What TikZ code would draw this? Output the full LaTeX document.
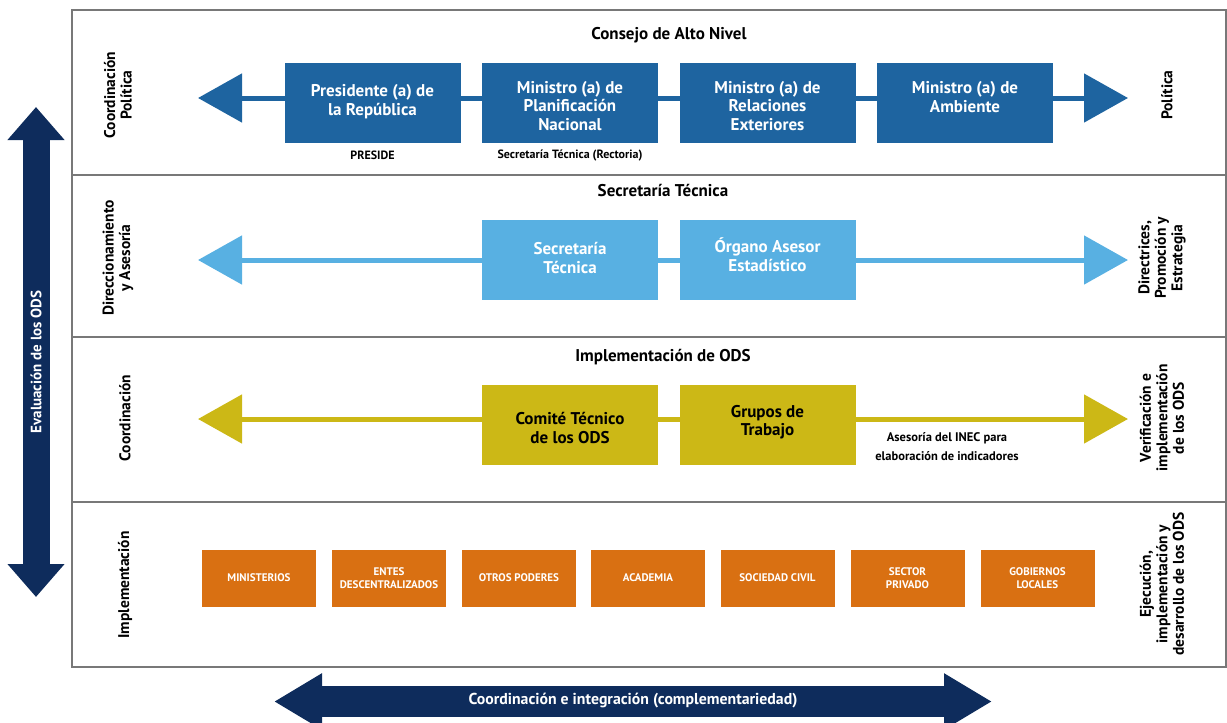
\documentclass[tikz,border=0pt]{standalone}
\usepackage{fontspec}
\setmainfont{PT Sans}
\usetikzlibrary{arrows.meta}
\definecolor{dblue}{RGB}{30,100,160}
\definecolor{lblue}{RGB}{88,176,226}
\definecolor{olive}{RGB}{204,184,22}
\definecolor{orng}{RGB}{217,112,18}
\definecolor{navy}{RGB}{14,44,92}
\definecolor{frame}{RGB}{120,120,120}
\tikzset{
  bbox/.style={minimum width=176pt,minimum height=80pt,inner sep=0pt},
  btxt/.style={inner sep=0pt,align=center,font=\fontsize{17}{18.5}\selectfont\bfseries,text=white},
  obx/.style={fill=orng,minimum width=114pt,minimum height=57pt,inner sep=1pt,align=center,font=\fontsize{11}{13}\selectfont\bfseries,text=white},
  ttl/.style={font=\fontsize{17}{19}\selectfont\bfseries},
  side/.style={rotate=90,align=center,font=\fontsize{15.5}{16.5}\selectfont\bfseries},
  small/.style={font=\fontsize{12}{14}\selectfont\bfseries},
  rowarrows/.style={line width=5pt,{Triangle[length=44pt,width=48pt]}-{Triangle[length=44pt,width=48pt]}},
}
\begin{document}
\begin{tikzpicture}[x=1pt,y=-1pt]
\useasboundingbox (0,0) rectangle (1227,723);
% frame
\draw[frame,line width=1.5pt] (72,10) rectangle (1226,667);
\draw[frame,line width=1.5pt] (72,175) -- (1226,175);
\draw[frame,line width=1.5pt] (72,337) -- (1226,337);
\draw[frame,line width=1.5pt] (72,502) -- (1226,502);

% Row 1
\coordinate (L1) at (198,98);
\coordinate (R1) at (1128,98);
\draw[dblue,rowarrows] (L1) -- (R1);
\node[ttl] (t1) at (669,35) {Consejo de Alto Nivel};
\node[bbox,fill=dblue] (pres) at (372.5,103) {};
\node[bbox,fill=dblue] (plan) at (570,103) {};
\node[bbox,fill=dblue] (rel) at (767.5,103) {};
\node[bbox,fill=dblue] (amb) at (965,103) {};
\node[btxt] (prest) at (372.5,101.5) {Presidente (a) de\\la República};
\node[btxt] (plant) at (570,106) {Ministro (a) de\\Planificación\\Nacional};
\node[btxt] (relt) at (767.5,106) {Ministro (a) de\\Relaciones\\Exteriores};
\node[btxt] (ambt) at (965,97) {Ministro (a) de\\Ambiente};
\node[small] (presl) at (372.5,155) {PRESIDE};
\node[small] (secl) at (570,155) {Secretaría Técnica (Rectoria)};
\node[side] (s1l) at (118,95) {Coordinación\\Política};
\node[side] (s1r) at (1167,95) {Política};

% Row 2
\coordinate (L2) at (198,260);
\coordinate (R2) at (1128,260);
\draw[lblue,rowarrows] (L2) -- (R2);
\node[ttl] (t2) at (663,190) {Secretaría Técnica};
\node[bbox,fill=lblue] (sec) at (570,260) {};
\node[bbox,fill=lblue] (org) at (767.5,260) {};
\node[btxt] (sect) at (570,258) {Secretaría\\Técnica};
\node[btxt] (orgt) at (767.5,254.5) {Órgano Asesor\\Estadístico};
\node[side] (s2l) at (118,258) {Direccionamiento\\y Asesoría};
\node[side] (s2r) at (1162,258) {Directrices,\\Promoción y\\Estrategia};

% Row 3
\coordinate (L3) at (198,419);
\coordinate (R3) at (1128,419);
\draw[olive,rowarrows] (L3) -- (R3);
\node[ttl] (t3) at (663,357) {Implementación de ODS};
\node[bbox,fill=olive] (com) at (570,425) {};
\node[bbox,fill=olive] (gru) at (767.5,425) {};
\node[btxt,text=black] (comt) at (570,428) {Comité Técnico\\de los ODS};
\node[btxt,text=black] (grut) at (767.5,422) {Grupos de\\Trabajo};
\node[align=center,font=\fontsize{12.5}{19}\selectfont\bfseries] (inec) at (947,447) {Asesoría del INEC para\\elaboración de indicadores};
\node[side] (s3l) at (125,418) {Coordinación};
\node[side] (s3r) at (1162,418) {Verificación e\\implementación\\de los ODS};

% Row 4
\node[obx] (o1) at (259,578) {MINISTERIOS};
\node[obx] (o2) at (389,578) {ENTES\\DESCENTRALIZADOS};
\node[obx] (o3) at (519,578) {OTROS PODERES};
\node[obx] (o4) at (648,578) {ACADEMIA};
\node[obx] (o5) at (777.5,578) {SOCIEDAD CIVIL};
\node[obx] (o6) at (907.5,578) {SECTOR\\PRIVADO};
\node[obx] (o7) at (1037.5,578) {GOBIERNOS\\LOCALES};
\node[side] (s4l) at (125,585) {Implementación};
\node[side] (s4r) at (1162,584) {Ejecución,\\implementación y\\desarrollo de los ODS};

% Left vertical arrow
\coordinate (VT) at (36,107);
\coordinate (VB) at (36,597);
\draw[navy,line width=27pt,{Triangle[length=33pt,width=55pt]}-{Triangle[length=33pt,width=55pt]}] (VT) -- (VB);
\node[rotate=90,text=white,font=\fontsize{15}{17}\selectfont\bfseries] (ev) at (36,362) {Evaluación de los ODS};

% Bottom arrow
\coordinate (BL) at (274,701.5);
\coordinate (BR) at (992,701.5);
\draw[navy,line width=31pt,{Triangle[length=48pt,width=53pt]}-{Triangle[length=48pt,width=53pt]}] (BL) -- (BR);
\node[text=white,font=\fontsize{15.8}{18}\selectfont\bfseries] (ci) at (633,701) {Coordinación e integración (complementariedad)};
\end{tikzpicture}
\end{document}
